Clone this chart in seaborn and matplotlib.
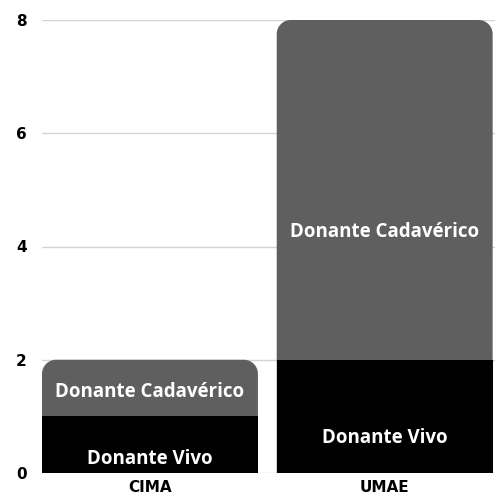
import pandas as pd
import matplotlib.pyplot as plt
import seaborn as sns
from matplotlib.path import Path
from matplotlib.patches import PathPatch

# data
sites = ["CIMA", "UMAE"]
donante_vivo = [1, 2]
donante_cadaverico = [1, 6]
series_labels = ["Donante Vivo", "Donante Cadavérico"]

# label heights (layout only)
vivo_label_y = [0.25, 0.62]
cad_label_y = [1.43, 4.26]

df = pd.DataFrame({"site": sites, "vivo": donante_vivo, "cad": donante_cadaverico})
df["total"] = df["vivo"] + df["cad"]

sns.set_style("white")
plt.rcParams["font.family"] = ["Open Sans", "DejaVu Sans"]

fig = plt.figure(figsize=(4.95, 4.96), dpi=100)
ax = fig.add_axes([42 / 495, 23 / 496, 453 / 495, 453 / 496])

# top segment first (full height), then bottom segment over it
sns.barplot(data=df, x="site", y="total", color="#5f5f5f", saturation=1,
            width=0.92, ax=ax, linewidth=0)
n_top = len(ax.patches)
sns.barplot(data=df, x="site", y="vivo", color="#000000", saturation=1,
            width=0.92, ax=ax, linewidth=0)
for p in ax.patches[n_top:]:
    p.set_zorder(3)

ax.set_ylim(0, 8)
ax.set_xlim(-0.46, 1.47)

# round the top corners of the grey bars
rx, ry = 0.06, 0.25
for p in list(ax.patches[:n_top]):
    x0, y0 = p.get_x(), p.get_y()
    w, h = p.get_width(), p.get_height()
    x1, y1 = x0 + w, y0 + h
    k = 0.5523
    verts = [
        (x0, y0), (x0, y1 - ry),
        (x0, y1 - ry + k * ry), (x0 + rx - k * rx, y1), (x0 + rx, y1),
        (x1 - rx, y1),
        (x1 - rx + k * rx, y1), (x1, y1 - ry + k * ry), (x1, y1 - ry),
        (x1, y0), (x0, y0),
    ]
    codes = [Path.MOVETO, Path.LINETO,
             Path.CURVE4, Path.CURVE4, Path.CURVE4,
             Path.LINETO,
             Path.CURVE4, Path.CURVE4, Path.CURVE4,
             Path.LINETO, Path.CLOSEPOLY]
    rounded = PathPatch(Path(verts, codes), facecolor=p.get_facecolor(),
                        edgecolor="none", zorder=2)
    p.remove()
    ax.add_patch(rounded)

for i in range(len(sites)):
    ax.text(i, vivo_label_y[i], series_labels[0], ha="center", va="center",
            color="white", fontsize=13.5, fontweight="bold", family="Open Sans", zorder=4)
    ax.text(i, cad_label_y[i], series_labels[1], ha="center", va="center",
            color="white", fontsize=13.5, fontweight="bold", family="Open Sans", zorder=4)

ax.set_yticks([0, 2, 4, 6, 8])
ax.grid(axis="y", color="#d4d4d4", linewidth=1)
ax.set_axisbelow(True)
sns.despine(ax=ax, left=True, bottom=True)
ax.set_xlabel("")
ax.set_ylabel("")
ax.tick_params(axis="y", length=0, pad=11)
ax.tick_params(axis="x", length=0, pad=5)
for lab in ax.get_xticklabels() + ax.get_yticklabels():
    lab.set_fontweight("bold")
    lab.set_fontsize(11)
    lab.set_family("DejaVu Sans")
    lab.set_color("black")

fig.savefig("out.png", dpi=100)
